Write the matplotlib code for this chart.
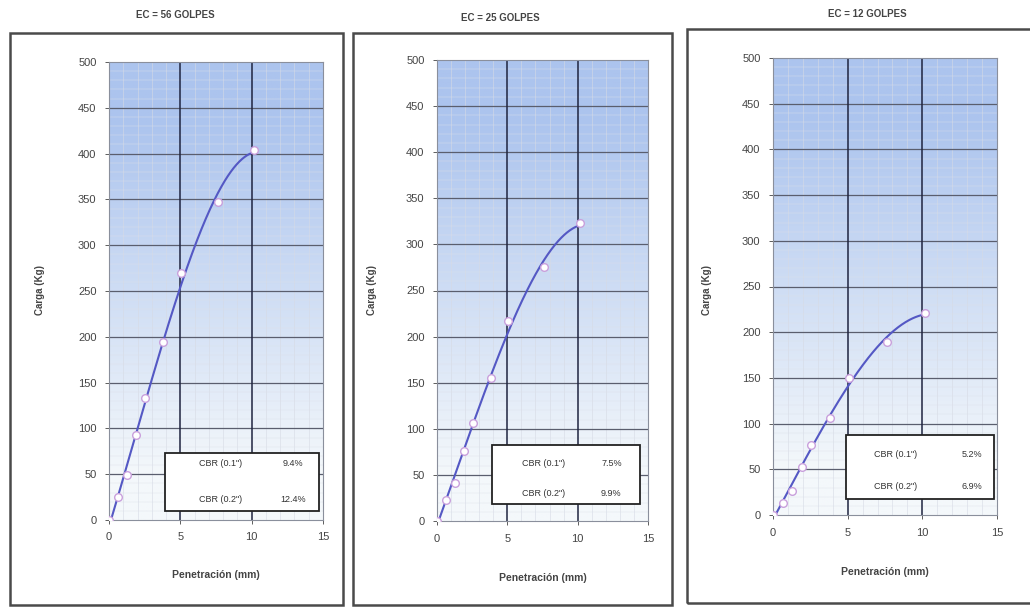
import numpy as np
import matplotlib
matplotlib.use("Agg")
import matplotlib.pyplot as plt
from matplotlib.patches import Rectangle

plt.rcParams['font.family'] = ['Liberation Sans', 'DejaVu Sans']

# penetracion estandar (mm) y cargas leidas (kg)
penetracion = [0, 0.64, 1.27, 1.91, 2.54, 3.81, 5.08, 7.62, 10.16]
carga_56 = [0, 25, 49, 93, 133, 194, 270, 347, 404]
carga_25 = [0, 23, 41, 76, 106, 155, 217, 275, 323]
carga_12 = [0, 13, 26, 53, 77, 106, 150, 189, 221]

titulos = ["EC = 56 GOLPES", "EC = 25 GOLPES", "EC = 12 GOLPES"]
cbr_01 = ["9.4%", "7.5%", "5.2%"]
cbr_02 = ["12.4%", "9.9%", "6.9%"]

W, H = 1030, 607
fig = plt.figure(figsize=(W / 100, H / 100), dpi=100)


def px_rect(x0, y0, x1, y1):
    # pixel box (top-left origin) -> figure fraction
    return [x0 / W, 1 - y1 / H, (x1 - x0) / W, (y1 - y0) / H]


# frames round each panel
frames = [(10, 33, 343, 605), (353, 33, 672, 605), (687, 29, 1040, 603)]
for x0, y0, x1, y1 in frames:
    fig.patches.append(Rectangle((x0 / W, 1 - y1 / H), (x1 - x0) / W, (y1 - y0) / H,
                                 transform=fig.transFigure, fill=False,
                                 edgecolor='#4a4a4a', linewidth=1.8))

axes_px = [(109, 62, 323, 520), (437, 60, 648, 521), (773, 58, 997, 515)]
title_pos = [(175, 15), (500, 18), (867, 14)]
ylabel_x = [40, 372, 707]
xlabel_y = [575, 578, 572]
box_x = [(3.9, 14.7), (3.9, 14.4), (4.9, 14.8)]
box_y = [(10, 73), (18, 82), (18, 87)]
row_y = [(62, 22), (62, 30), (66, 31)]
text_x = [(7.8, 12.9), (7.6, 12.4), (8.2, 13.3)]

series = [carga_56, carga_25, carga_12]

# gradient background (blue at top, fading to white)
top = np.array([172, 196, 238]) / 255
bot = np.array([244, 248, 251]) / 255
t = np.linspace(0, 1, 256)[:, None]
t = np.clip((t - 0.1) * 1.3, 0, 1)
grad = (bot[None, :] * (1 - t) + top[None, :] * t)[:, None, :]

txt_col = '#444444'

for i, ydata in enumerate(series):
    ax = fig.add_axes(px_rect(*axes_px[i]))
    ax.imshow(grad, extent=[0, 15, 0, 500], aspect='auto', origin='lower', zorder=0)
    ax.set_xlim(0, 15)
    ax.set_ylim(0, 500)

    # minor grid
    for xv in np.arange(1, 15):
        if xv % 5:
            ax.axvline(xv, color='#d6dae4', lw=0.4, zorder=1)
    for yv in np.arange(10, 500, 10):
        if yv % 50:
            ax.axhline(yv, color='#dde1ea', lw=0.3, zorder=1)
    # major grid
    for yv in np.arange(50, 500, 50):
        ax.axhline(yv, color='#5a5e6e', lw=0.9, zorder=2)
    for xv in [5, 10]:
        ax.axvline(xv, color='#1f2440', lw=1.1, zorder=2)

    # trend curve
    coef = np.polyfit(penetracion, ydata, 3)
    xs = np.linspace(0, max(penetracion), 200)
    ax.plot(xs, np.clip(np.polyval(coef, xs), 0, None), color='#5458c4', lw=1.5, zorder=4)
    ax.plot(penetracion, ydata, linestyle='none', marker='o', ms=5.5,
            mfc='white', mec='#c9a0dc', mew=1.0, zorder=5)

    # CBR box
    bx0, bx1 = box_x[i]
    by0, by1 = box_y[i]
    ax.add_patch(Rectangle((bx0, by0), bx1 - bx0, by1 - by0, facecolor='white',
                           edgecolor='#222222', lw=1.3, zorder=6))
    ax.text(text_x[i][0], row_y[i][0], 'CBR (0.1")', ha='center', va='center',
            fontsize=6.5, color='#333333', zorder=7)
    ax.text(text_x[i][1], row_y[i][0], cbr_01[i], ha='center', va='center',
            fontsize=6.5, color='#333333', zorder=7)
    ax.text(text_x[i][0], row_y[i][1], 'CBR (0.2")', ha='center', va='center',
            fontsize=6.5, color='#333333', zorder=7)
    ax.text(text_x[i][1], row_y[i][1], cbr_02[i], ha='center', va='center',
            fontsize=6.5, color='#333333', zorder=7)

    ax.set_xticks([0, 5, 10, 15])
    ax.set_yticks(np.arange(0, 501, 50))
    ax.tick_params(labelsize=8, colors=txt_col, length=3, width=0.6, pad=6)
    for sp in ax.spines.values():
        sp.set_color('#8a8f9c')
        sp.set_linewidth(0.8)

    tx, ty = title_pos[i]
    fig.text(tx / W, 1 - ty / H, titulos[i], ha='center', va='center',
             fontsize=7, fontweight='bold', color=txt_col)
    fig.text(ylabel_x[i] / W, 1 - 290 / H, 'Carga (Kg)', rotation=90, ha='center',
             va='center', fontsize=7, fontweight='bold', color=txt_col)
    cx = (axes_px[i][0] + axes_px[i][2]) / 2
    fig.text(cx / W, 1 - xlabel_y[i] / H, 'Penetración (mm)', ha='center', va='center',
             fontsize=7.5, fontweight='bold', color=txt_col)

fig.savefig('out.png', dpi=100)
